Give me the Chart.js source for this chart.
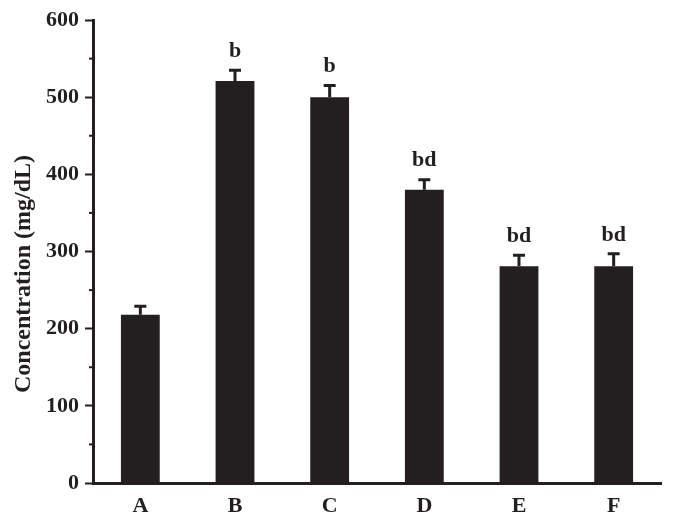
<!DOCTYPE html>
<html>
<head>
<meta charset="utf-8">
<script src="https://cdn.jsdelivr.net/npm/chart.js@4"></script>
<style>
  html, body { margin: 0; padding: 0; background: #fff; }
  #wrap { width: 674px; height: 523px; }
</style>
</head>
<body>
<div id="wrap"><canvas id="concChart"></canvas></div>
<script>
const groups = ['A', 'B', 'C', 'D', 'E', 'F'];
const concentration = [218, 521, 500, 380, 281, 281];
const errors = [11, 14, 15, 13, 14, 16];
const letters = ['', 'b', 'b', 'bd', 'bd', 'bd'];
const yTicks = [0, 100, 200, 300, 400, 500, 600];

const ink = '#231f20';
const serif = '"Liberation Serif", "Times New Roman", serif';

// error bars, significance letters, minor ticks, axis title
const extras = {
    id: 'extras',
    afterDatasetsDraw(chart) {
        const c = chart.ctx;
        const x = chart.scales.x;
        const y = chart.scales.y;
        c.save();
        c.strokeStyle = ink;
        c.fillStyle = ink;
        c.lineWidth = 3;
        concentration.forEach(function(v, i) {
            const px = x.getPixelForValue(i);
            const top = y.getPixelForValue(v + errors[i]);
            c.beginPath();
            c.moveTo(px, y.getPixelForValue(v));
            c.lineTo(px, top);
            c.moveTo(px - 6, top);
            c.lineTo(px + 6, top);
            c.stroke();
            if (letters[i]) {
                c.font = 'bold 22px ' + serif;
                c.textAlign = 'center';
                c.textBaseline = 'middle';
                c.fillText(letters[i], px, top - 19);
            }
        });
        // minor ticks
        c.lineWidth = 2;
        for (let v = 50; v < 600; v += 100) {
            const py = y.getPixelForValue(v);
            c.beginPath();
            c.moveTo(chart.chartArea.left - 4, py);
            c.lineTo(chart.chartArea.left, py);
            c.stroke();
        }
        // y title
        c.translate(24, 274);
        c.rotate(-Math.PI / 2);
        c.font = 'bold 24px ' + serif;
        c.textAlign = 'center';
        c.textBaseline = 'middle';
        c.fillText('Concentration (mg/dL)', 0, 0);
        c.restore();
    }
};

new Chart(document.getElementById('concChart').getContext('2d'), {
    type: 'bar',
    data: {
        labels: groups,
        datasets: [{
            data: concentration,
            backgroundColor: ink,
            borderWidth: 0,
            barPercentage: 0.41,
            categoryPercentage: 1
        }]
    },
    options: {
        responsive: true,
        maintainAspectRatio: false,
        animation: false,
        layout: { padding: { top: 20, right: 13, left: 0, bottom: 0 } },
        plugins: { legend: { display: false }, tooltip: { enabled: false } },
        scales: {
            x: {
                offset: true,
                grid: { display: false, drawTicks: false },
                border: { color: ink, width: 3 },
                ticks: { color: ink, font: { family: serif, size: 22, weight: 'bold' }, padding: 10 },
                afterFit: function(s) { s.height = 40; }
            },
            y: {
                min: 0,
                max: 600,
                afterBuildTicks: function(s) { s.ticks = yTicks.map(v => ({ value: v })); },
                grid: { display: true, drawOnChartArea: false, tickLength: 8, tickWidth: 2, tickColor: ink },
                border: { color: ink, width: 3 },
                ticks: { color: ink, font: { family: serif, size: 22, weight: 'bold' }, padding: 6 },
                afterFit: function(s) { s.width = 93; }
            }
        }
    },
    plugins: [extras]
});
</script>
</body>
</html>
